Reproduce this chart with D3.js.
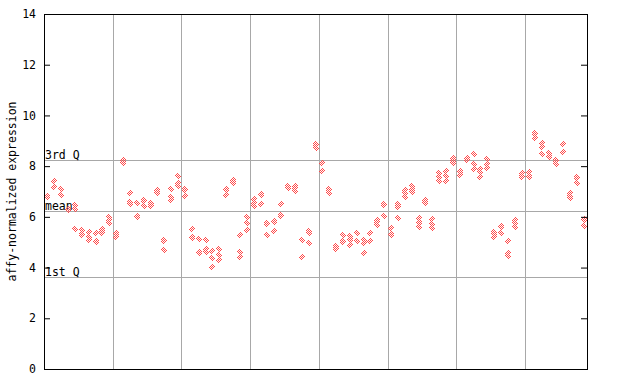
<!DOCTYPE html>
<html>
<head>
<meta charset="utf-8">
<script src="https://d3js.org/d3.v7.min.js"></script>
<style>
  body { margin: 0; background: #fff; }
  text { font-family: "DejaVu Sans Mono", monospace; font-size: 11.5px; fill: #000; }
</style>
</head>
<body>
<div id="chart"></div>
<script>
var sampleCount = 79;
var yTicks = [0, 2, 4, 6, 8, 10, 12, 14];
var gridSamples = [10, 20, 30, 40, 50, 60, 70];
var qLabels = ['3rd Q', 'mean', '1st Q'];
var qValues = [8.24, 6.23, 3.62];

// replicate values per sample (1..79)
var sampleValues = [
  [6.84, 6.80], [7.43, 7.19], [7.09, 6.87], [6.30, 6.26], [6.47, 6.32, 5.51],
  [5.48, 5.32, 5.28], [5.41, 5.22, 5.10], [5.35, 5.05, 5.01], [5.51, 5.45, 5.38], [6.01, 5.88, 5.75],
  [5.37, 5.33, 5.22], [8.26, 8.22, 8.14], [6.93, 6.60, 6.49], [6.53, 6.03, 5.99], [6.66, 6.62, 6.43],
  [6.55, 6.51, 6.44], [7.05, 7.01, 6.93], [5.08, 5.04, 4.69], [7.09, 6.80, 6.66], [7.61, 7.34, 7.22],
  [7.08, 7.04, 6.83], [5.51, 5.20, 5.16], [5.11, 4.61, 4.57], [5.09, 4.74, 4.63], [4.66, 4.37, 4.01],
  [4.72, 4.50, 4.30], [7.10, 7.06, 6.85], [7.47, 7.43, 7.35], [5.28, 4.63, 4.43], [5.98, 5.75, 5.48],
  [6.69, 6.56, 6.43], [6.90, 6.86, 6.49], [5.74, 5.70, 5.27], [5.83, 5.79, 5.43], [6.49, 6.09, 6.03],
  [7.20, 7.16, 7.12], [7.22, 7.12, 7.03], [5.09, 4.40], [5.44, 5.35, 4.96], [8.88, 8.84, 8.70],
  [8.11, 7.80], [7.08, 7.04, 6.95], [4.84, 4.80, 4.75], [5.27, 5.04, 5.00], [5.25, 5.12, 5.08, 4.89],
  [5.35, 5.04], [5.09, 4.96, 4.56], [5.35, 5.04], [5.88, 5.78, 5.67], [6.50, 6.46, 6.02],
  [5.57, 5.33, 5.28], [6.49, 6.41, 6.37, 5.94], [7.06, 6.93, 6.80], [7.22, 7.10, 7.06, 6.99], [5.95, 5.79, 5.75, 5.61],
  [6.68, 6.64, 6.53], [5.90, 5.72, 5.55], [7.72, 7.56, 7.40], [7.82, 7.62, 7.43], [8.31, 8.24, 8.20, 8.11],
  [7.81, 7.77, 7.64], [8.31, 8.27, 8.23], [8.48, 8.08, 7.87], [7.87, 7.78, 7.56], [8.27, 8.10, 7.91],
  [5.41, 5.37, 5.33, 5.22], [5.63, 5.59, 5.35], [5.03, 4.56, 4.46], [5.88, 5.75, 5.61], [7.74, 7.62, 7.58],
  [7.78, 7.63, 7.59], [9.31, 9.27, 9.10], [8.93, 8.77, 8.48], [8.51, 8.40, 8.36], [8.26, 8.22, 8.08],
  [8.86, 8.57], [6.93, 6.83, 6.73], [7.56, 7.52, 7.35], [5.92, 5.88, 5.64]
];

var width = 640, height = 384;
var plotLeft = 44, plotRight = 587, plotTop = 14, plotBottom = 369;

var svg = d3.select('#chart').append('svg')
    .attr('width', width)
    .attr('height', height);

var x = d3.scaleLinear().domain([0.5, sampleCount + 0.5]).range([plotLeft, plotRight]);
var y = d3.scaleLinear().domain([0, 14]).range([plotBottom, plotTop]);

// dithered fill: two phases, so points one pixel apart fill in solid
var defs = svg.append('defs');
function checker(id, color, phase) {
  var p = defs.append('pattern')
      .attr('id', id)
      .attr('patternUnits', 'userSpaceOnUse')
      .attr('width', 2).attr('height', 2);
  p.append('rect').attr('x', phase).attr('y', 0).attr('width', 1).attr('height', 1).attr('fill', color);
  p.append('rect').attr('x', 1 - phase).attr('y', 1).attr('width', 1).attr('height', 1).attr('fill', color);
}
checker('ditherA', '#ff4a4a', 0);
checker('ditherB', '#ff4a4a', 1);

// grid
svg.append('g').selectAll('line')
    .data(gridSamples)
    .enter().append('line')
    .attr('x1', d => Math.round(x(d + 0.5)) + 0.5)
    .attr('x2', d => Math.round(x(d + 0.5)) + 0.5)
    .attr('y1', plotTop).attr('y2', plotBottom)
    .attr('stroke', '#a8a8a8');

svg.append('g').selectAll('line')
    .data(qValues)
    .enter().append('line')
    .attr('x1', plotLeft).attr('x2', plotRight)
    .attr('y1', d => Math.round(y(d)) + 0.5)
    .attr('y2', d => Math.round(y(d)) + 0.5)
    .attr('stroke', '#a8a8a8');

svg.append('g').selectAll('text')
    .data(qValues)
    .enter().append('text')
    .attr('x', plotLeft + 1)
    .attr('y', d => Math.round(y(d)) - 1)
    .text((d, i) => qLabels[i]);

// points
var pts = [];
sampleValues.forEach(function(vals, i) {
  vals.forEach(function(v) {
    var px = Math.round(x(i + 1)), py = Math.round(y(v));
    pts.push({ px: px, py: py, fill: (px + py) % 2 ? 'url(#ditherB)' : 'url(#ditherA)' });
  });
});

svg.append('g').selectAll('path')
    .data(pts)
    .enter().append('path')
    .attr('d', 'M0,-3.5L3.5,0L0,3.5L-3.5,0Z')
    .attr('shape-rendering', 'crispEdges')
    .attr('transform', d => 'translate(' + d.px + ',' + d.py + ')')
    .attr('fill', d => d.fill);

// axes
var yAxis = svg.append('g')
    .attr('transform', 'translate(' + plotLeft + ',0)')
    .call(d3.axisLeft(y).tickValues(yTicks).tickSize(-6).tickSizeOuter(0).tickPadding(8));
yAxis.selectAll('text').style('font-size', '11.5px').attr('font-family', 'DejaVu Sans Mono');

svg.append('g')
    .attr('transform', 'translate(' + plotRight + ',0)')
    .call(d3.axisRight(y).tickValues(yTicks).tickSize(-6).tickSizeOuter(0).tickFormat(''));

svg.append('line')
    .attr('x1', plotLeft).attr('x2', plotRight + 1)
    .attr('y1', plotTop + 0.5).attr('y2', plotTop + 0.5)
    .attr('stroke', '#000');
svg.append('line')
    .attr('x1', plotLeft).attr('x2', plotRight + 1)
    .attr('y1', plotBottom + 0.5).attr('y2', plotBottom + 0.5)
    .attr('stroke', '#000');

svg.append('text')
    .attr('transform', 'translate(12,' + ((plotTop + plotBottom) / 2) + ')rotate(-90)')
    .attr('text-anchor', 'middle')
    .attr('dominant-baseline', 'middle')
    .text('affy-normalized expression');
</script>
</body>
</html>
